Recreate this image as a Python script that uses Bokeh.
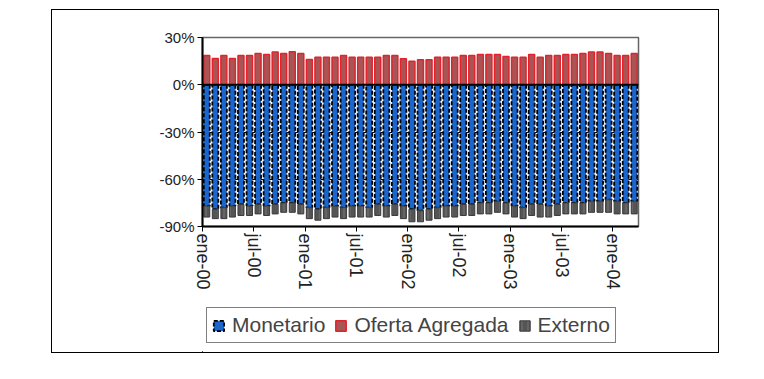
from bokeh.plotting import figure
from bokeh.layouts import column
from bokeh.models import ColumnDataSource, FixedTicker, PrintfTickFormatter, Legend, LegendItem, Span
from bokeh.embed import file_html
from bokeh.resources import INLINE

# ---- data (ene-00 .. mar-04, monthly, %) ----
months = [f"{m}-{y:02d}" for y in range(0, 5) for m in
          ["ene", "feb", "mar", "abr", "may", "jun", "jul", "ago", "sep", "oct", "nov", "dic"]][:51]

oferta = [18.5, 16.7, 18.5, 16.7, 18.5, 18.5, 19.8, 19.2, 20.8, 19.8, 21.0, 19.8,
          16.0, 17.5, 17.5, 17.5, 18.5, 17.5, 17.5, 17.5, 17.5, 18.5, 18.5, 16.5,
          15.0, 15.8, 15.8, 17.5, 17.5, 17.5, 18.5, 18.5, 19.2, 19.2, 19.2, 17.9,
          17.5, 17.5, 19.2, 17.5, 18.5, 18.5, 19.2, 19.2, 19.8, 20.8, 20.8, 19.8,
          18.5, 18.5, 19.8]

monetario = [-77, -79, -78, -77, -76, -77, -76, -77, -76, -75, -75, -76,
             -78, -79, -78, -77, -78, -77, -77, -78, -76, -77, -76, -77,
             -79, -80, -79, -78, -77, -77, -76, -76, -75, -75, -74, -75,
             -77, -78, -76, -76, -77, -76, -75, -75, -75, -74, -74, -73,
             -74, -75, -74]

externo = [-7, -6, -7, -7, -7, -6, -6, -6, -6, -6, -6, -6,
           -7, -7, -7, -7, -7, -7, -7, -6, -7, -7, -7, -8,
           -8, -7, -7, -7, -7, -7, -7, -7, -7, -7, -7, -7,
           -7, -7, -7, -8, -7, -7, -7, -7, -7, -7, -7, -8,
           -8, -7, -8]

series_names = ["Monetario", "Oferta Agregada", "Externo"]

y_ticks = [-90, -60, -30, 0, 30]
x_tick_idx = [0, 6, 12, 18, 24, 30, 36, 42, 48]
x_tick_labels = ["ene-00", "jul-00", "ene-01", "jul-01", "ene-02",
                 "jul-02", "ene-03", "jul-03", "ene-04"]

n = len(months)
src = ColumnDataSource(dict(
    x=[i + 0.5 for i in range(n)],
    of=oferta,
    mon=monetario,
    ext_top=monetario,
    ext_bot=[m + e for m, e in zip(monetario, externo)],
))

FONT = "Liberation Sans"

MON_STYLE = dict(fill_color="#1a66cc", line_color="black", line_dash="4 2", line_width=1.8)
OF_STYLE = dict(fill_color="#a85555", line_color="#e3222b", line_width=1.5)
EXT_STYLE = dict(fill_color="#555555", line_color="#3a3a3a", line_width=1,
                 hatch_pattern="|", hatch_color="#8a8a8a", hatch_scale=6, hatch_weight=0.6)

p = figure(width=666, height=291, x_range=(0, n), y_range=(-90, 30),
           output_backend="svg", toolbar_location=None,
           min_border_left=150, min_border_right=80,
           min_border_top=27, min_border_bottom=75)

p.xgrid.visible = False
p.ygrid.grid_line_color = "black"
p.ygrid.grid_line_width = 1
p.outline_line_color = "#666666"
p.outline_line_width = 1.5

bw = 0.7
p.vbar(x="x", top=0, bottom="mon", width=bw, source=src, **MON_STYLE)
p.vbar(x="x", top="of", bottom=0, width=bw, source=src, **OF_STYLE)
p.vbar(x="x", top="ext_top", bottom="ext_bot", width=bw, source=src, **EXT_STYLE)

p.add_layout(Span(location=0, dimension="width", line_color="black", line_width=2))

# axes
p.yaxis.ticker = FixedTicker(ticks=y_ticks)
p.yaxis.formatter = PrintfTickFormatter(format="%d%%")
p.yaxis.major_label_text_font = FONT
p.yaxis.major_label_text_font_size = "15px"
p.yaxis.major_label_text_color = "#222222"
p.yaxis.major_tick_out = 5
p.yaxis.major_tick_in = 0
p.yaxis.minor_tick_out = 0
p.yaxis.minor_tick_in = 0
p.yaxis.axis_line_width = 2
p.yaxis.major_label_standoff = 3

p.xaxis.ticker = FixedTicker(ticks=x_tick_idx)
p.xaxis.major_label_overrides = {t: l for t, l in zip(x_tick_idx, x_tick_labels)}
p.xaxis.major_label_orientation = "vertical"
p.xaxis.major_label_text_font = FONT
p.xaxis.major_label_text_font_size = "18px"
p.xaxis.major_label_text_color = "#222222"
p.xaxis.major_tick_out = 5
p.xaxis.major_tick_in = 0
p.xaxis.minor_tick_out = 0
p.xaxis.minor_tick_in = 0
p.xaxis.axis_line_width = 2
p.xaxis.major_label_standoff = 2

# legend strip (separate small figure so the legend is not clipped);
# its renderers share the data but lie far outside this strip's visible range
pl = figure(width=666, height=51, x_range=(1000, 1001), y_range=(500, 600),
            x_axis_type=None, y_axis_type=None,
            output_backend="svg", toolbar_location=None,
            min_border=0, outline_line_color=None)
l_mon = pl.vbar(x="x", top=0, bottom="mon", width=bw, source=src, **MON_STYLE)
l_of = pl.vbar(x="x", top="of", bottom=0, width=bw, source=src, **OF_STYLE)
l_ext = pl.vbar(x="x", top="ext_top", bottom="ext_bot", width=bw, source=src, **EXT_STYLE)

legend = Legend(items=[LegendItem(label=series_names[0], renderers=[l_mon]),
                       LegendItem(label=series_names[1], renderers=[l_of]),
                       LegendItem(label=series_names[2], renderers=[l_ext])],
                orientation="horizontal", location=(4, 9),
                label_text_font=FONT, label_text_font_size="21px",
                glyph_width=13, glyph_height=13, label_standoff=7, spacing=9,
                padding=5, margin=0,
                border_line_color="black", border_line_width=1,
                background_fill_color="white", background_fill_alpha=1)
pl.add_layout(legend, "center")

layout = column(p, pl, spacing=0)
layout.margin = (9, 0, 0, 51)
layout.styles = {"border": "1px solid black"}

open("out.html", "w").write(file_html(layout, INLINE))
